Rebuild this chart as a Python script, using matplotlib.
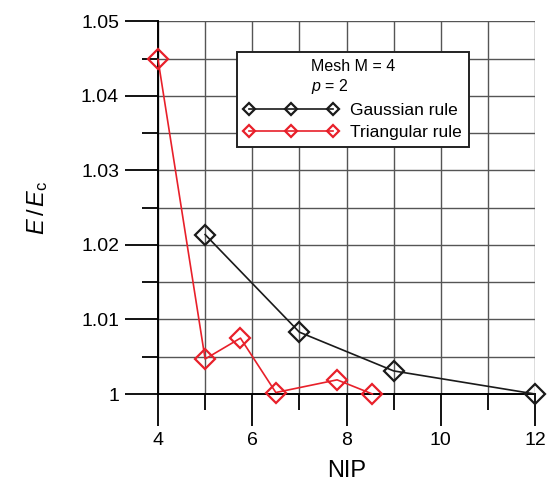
import matplotlib
matplotlib.use('Agg')
import matplotlib.pyplot as plt
from matplotlib.ticker import MultipleLocator, FuncFormatter

plt.rcParams['font.family'] = ['Liberation Sans', 'DejaVu Sans']
plt.rcParams['mathtext.fontset'] = 'custom'
plt.rcParams['mathtext.it'] = 'Liberation Sans:italic'
plt.rcParams['mathtext.rm'] = 'Liberation Sans'

# data
gauss_nip = [5, 7, 9, 12]
gauss_e = [1.0214, 1.0083, 1.0031, 1.0000]
tri_nip = [4, 5, 5.75, 6.5, 7.8, 8.55]
tri_e = [1.0449, 1.0047, 1.0075, 1.0002, 1.0019, 1.0000]

fig = plt.figure(figsize=(5.49, 4.86), dpi=100)
ax = fig.add_axes([0.2878, 0.1893, 0.6867, 0.7665])

ax.set_xlim(4, 12)
ax.set_ylim(1.0, 1.05)
ax.xaxis.set_major_locator(MultipleLocator(2))
ax.xaxis.set_minor_locator(MultipleLocator(1))
ax.yaxis.set_major_locator(MultipleLocator(0.01))
ax.yaxis.set_minor_locator(MultipleLocator(0.005))
ax.yaxis.set_major_formatter(FuncFormatter(lambda v, p: '%g' % round(v, 3)))

ax.grid(True, which='both', color='#555555', lw=1.0)
ax.set_axisbelow(True)

for s in ['top', 'right']:
    ax.spines[s].set_visible(False)
ax.spines['left'].set_linewidth(1.4)
ax.spines['bottom'].set_linewidth(1.4)

ax.tick_params(which='major', direction='out', length=23, width=1.3, labelsize=14, pad=4)
ax.tick_params(which='minor', direction='out', length=11.5, width=1.3)
ax.tick_params(axis='y', which='major', length=24)

ax.plot(gauss_nip, gauss_e, color='#1a1a1a', lw=1.2, marker='D', ms=10,
        mfc='none', mew=1.6, label='Gaussian rule', clip_on=False, zorder=3)
ax.plot(tri_nip, tri_e, color='#e8202a', lw=1.2, marker='D', ms=10,
        mfc='none', mew=1.6, label='Triangular rule', clip_on=False, zorder=3)

leg = ax.legend(loc='upper left', bbox_to_anchor=(0.21, 0.918), numpoints=3,
                markerscale=0.6, handlelength=5.4, fontsize=12.5,
                title='Mesh M = 4\n$p$ = 2', title_fontsize=11.5,
                fancybox=False, framealpha=1, edgecolor='#222222',
                borderpad=0.4, labelspacing=0.4, handletextpad=0.7,
                borderaxespad=0)
leg.get_frame().set_linewidth(1.4)

ax.set_xlabel('NIP', fontsize=17, labelpad=8)
ax.set_ylabel('$E\\,/\\,E_{\\mathrm{c}}$', fontsize=17, labelpad=22)

fig.savefig('out.png', dpi=100)
